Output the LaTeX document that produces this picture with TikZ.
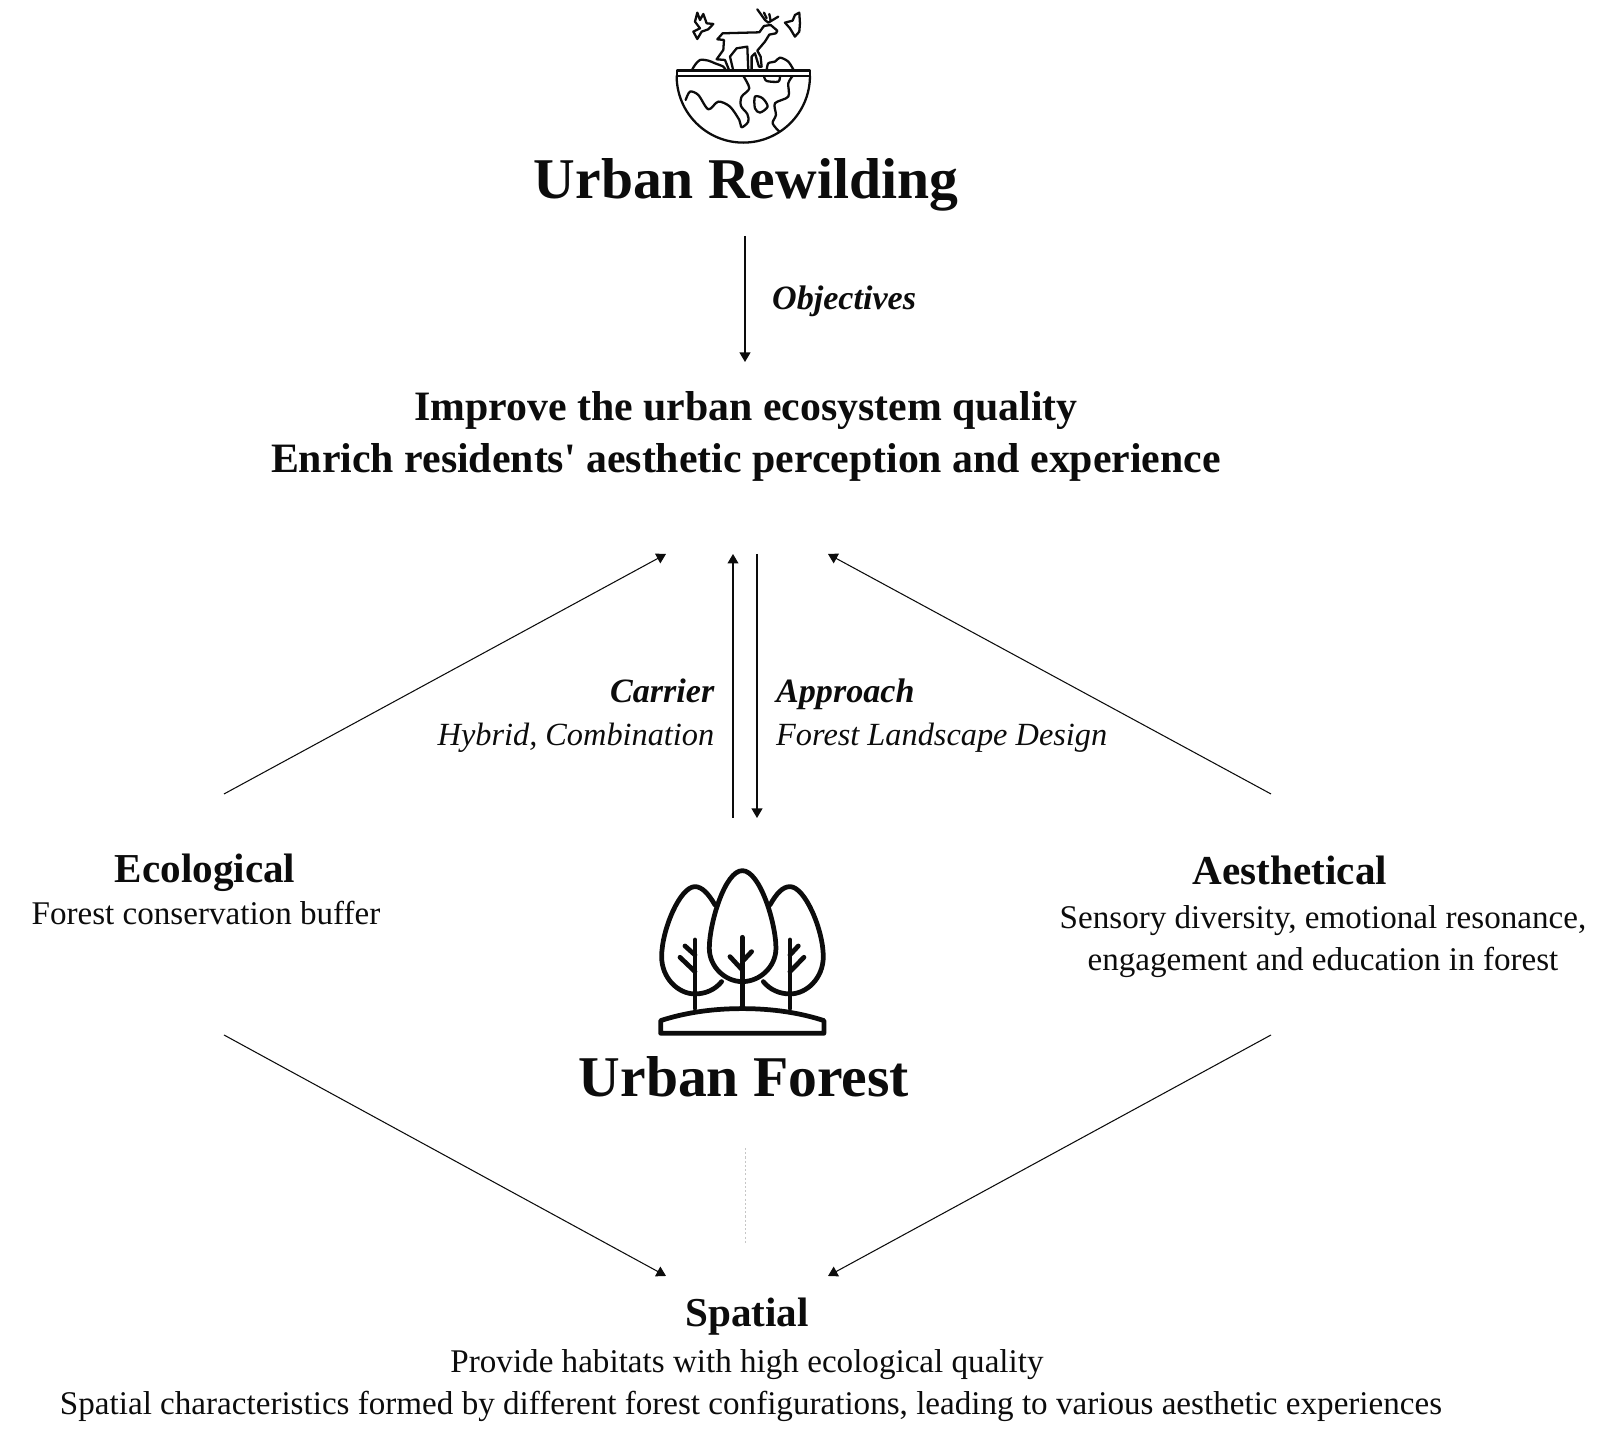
\documentclass[tikz,border=0pt]{standalone}
\usepackage{fontspec}
\usepackage{xcolor}
\usetikzlibrary{arrows.meta}
\setmainfont{Liberation Serif}
\definecolor{inkblack}{RGB}{12, 12, 12}
\tikzset{
  titletext/.style={anchor=base,font=\fontsize{16.4}{20}\selectfont\bfseries,text=inkblack,inner sep=0pt},
  goaltext/.style={anchor=base,font=\fontsize{11.9}{14}\selectfont\bfseries,text=inkblack,inner sep=0pt},
  headtext/.style={anchor=base,font=\fontsize{11.7}{14}\selectfont\bfseries,text=inkblack,inner sep=0pt},
  bodytext/.style={anchor=base,font=\fontsize{9.42}{12}\selectfont,text=inkblack,inner sep=0pt},
  tagtext/.style={font=\fontsize{9.7}{12}\selectfont\bfseries\itshape,text=inkblack,inner sep=0pt},
  notetext/.style={font=\fontsize{9.2}{12}\selectfont\itshape,text=inkblack,inner sep=0pt},
  flowline/.style={draw=inkblack,line width=0.3pt,-{Triangle[length=2.7pt,width=3.1pt]}},
  globeline/.style={draw=inkblack,line width=0.65pt,line join=round,line cap=round},
  treeline/.style={draw=inkblack,line width=1.35pt,line join=round,line cap=round}
}

\begin{document}
\begin{tikzpicture}
\useasboundingbox (0,0) rectangle (15.98,14.29);

\begin{scope}[shift={(6.40cm,14.29cm)},x=0.03333mm,y=-0.03333mm]
  \draw[globeline] (110,212) rectangle (510,228);
  \draw[globeline] (110,228) arc[start angle=180,end angle=0,radius=200];
  \draw[globeline] plot[smooth] coordinates {(137,300) (150,275) (175,285) (205,328) (235,305) (270,320) (298,360) (305,382) (325,365) (322,342) (303,318) (305,290) (328,265) (310,228)};
  \draw[globeline] plot[smooth] coordinates {(372,228) (380,243) (415,245) (420,228)};
  \draw[globeline] plot[smooth] coordinates {(458,228) (445,250) (445,290) (405,310) (408,345) (398,370) (418,395)};
  \draw[globeline] plot[smooth cycle] coordinates {(345,290) (368,295) (383,320) (360,338) (345,325)};
  \draw[globeline] (232,118) -- (248,100) -- (358,97) -- (372,78) -- (392,75) -- (412,92) -- (408,100) -- (388,104) -- (375,125) -- (352,152) -- (362,170) -- (365,200) -- (357,200) -- (345,160) -- (335,170) -- (335,212) -- (325,212) -- (322,140) -- (290,145) -- (270,170) -- (280,212) -- (268,212) -- (255,180) -- (230,178) -- (250,150) -- (252,120) -- cycle;
  \draw[globeline] (352,28) -- (375,60) -- (385,68) -- (415,50);
  \draw[globeline] (372,38) -- (380,55);
  \draw[globeline] (388,42) -- (392,62);
  \draw[globeline] (172,38) -- (180,60) -- (190,42) -- (200,70) -- (220,72) -- (205,88) -- (185,95) -- (172,117) -- (160,95) -- (180,85) -- (165,65) -- cycle;
  \draw[globeline] (478,38) -- (465,45) -- (458,62) -- (435,68) -- (450,85) -- (465,110) -- (478,95) -- (480,70) -- cycle;
  \draw[globeline] plot[smooth] coordinates {(155,212) (165,195) (180,180) (205,182) (225,190) (250,200) (258,212)};
  \draw[globeline] plot[smooth] coordinates {(380,212) (385,190) (405,185) (420,173) (445,185) (462,212)};
\end{scope}

\begin{scope}[shift={(6.30cm,5.79cm)},x=0.03333mm,y=-0.03333mm]
  \draw[treeline] (255,165) .. controls (235,130) and (215,110) .. (195,110) .. controls (150,110) and (95,240) .. (95,320) .. controls (95,385) and (145,432) .. (195,432) .. controls (225,432) and (255,420) .. (275,395);
  \draw[treeline] (337,62) .. controls (285,62) and (238,220) .. (238,295) .. controls (238,350) and (285,395) .. (337,395) .. controls (390,395) and (438,350) .. (438,295) .. controls (438,220) and (390,62) .. (337,62) -- cycle;
  \draw[treeline] (420,165) .. controls (440,130) and (458,110) .. (480,110) .. controls (525,110) and (580,240) .. (580,320) .. controls (580,385) and (530,432) .. (480,432) .. controls (450,432) and (420,420) .. (400,395);
  \draw[treeline] (337,262) -- (337,470);
  \draw[treeline] (300,320) -- (337,360);
  \draw[treeline] (365,305) -- (337,335);
  \draw[treeline] (195,270) -- (195,475);
  \draw[treeline] (150,322) -- (195,365);
  \draw[treeline] (165,288) -- (195,315);
  \draw[treeline] (480,270) -- (480,475);
  \draw[treeline] (522,322) -- (480,365);
  \draw[treeline] (505,288) -- (480,315);
  \draw[treeline] (92,512) .. controls (160,490) and (240,476) .. (337,476) .. controls (434,476) and (514,490) .. (582,512) -- (582,550) -- (92,550) -- cycle;
\end{scope}

\node[titletext] (rewilding) at (7.46,12.30) {Urban Rewilding};
\node[goaltext] (goalone) at (7.46,10.08) {Improve the urban ecosystem quality};
\node[goaltext] (goaltwo) at (7.46,9.56) {Enrich residents\textquotesingle{} aesthetic perception and experience};
\node[tagtext,anchor=base west] (objectives) at (7.715,11.19) {Objectives};
\node[tagtext,anchor=base east] (carrier) at (7.15,7.26) {Carrier};
\node[notetext,anchor=base east] (hybrid) at (7.15,6.83) {Hybrid, Combination};
\node[tagtext,anchor=base west] (approach) at (7.755,7.26) {Approach};
\node[notetext,anchor=base west] (design) at (7.755,6.83) {Forest Landscape Design};
\node[headtext] (ecological) at (2.05,5.465) {Ecological};
\node[bodytext] (buffer) at (2.06,5.04) {Forest conservation buffer};
\node[headtext] (aesthetical) at (12.90,5.44) {Aesthetical};
\node[bodytext] (sensory) at (13.23,5.00) {Sensory diversity, emotional resonance,};
\node[bodytext] (engagement) at (13.23,4.58) {engagement and education in forest};
\node[titletext] (forest) at (7.44,3.325) {Urban Forest};
\node[headtext] (spatial) at (7.47,1.02) {Spatial};
\node[bodytext] (habitats) at (7.47,0.56) {Provide habitats with high ecological quality};
\node[bodytext] (configs) at (7.51,0.145) {Spatial characteristics formed by different forest configurations, leading to various aesthetic experiences};

\coordinate (objtop) at (7.45,11.93);
\coordinate (objend) at (7.45,10.67);
\coordinate (carrierlow) at (7.33,6.11);
\coordinate (carrierup) at (7.33,8.75);
\coordinate (approachup) at (7.57,8.75);
\coordinate (approachlow) at (7.57,6.11);
\coordinate (ecoup) at (2.24,6.35);
\coordinate (ecoend) at (6.66,8.75);
\coordinate (aesup) at (12.71,6.35);
\coordinate (aesend) at (8.28,8.75);
\coordinate (ecolow) at (2.24,3.94);
\coordinate (spaleft) at (6.66,1.53);
\coordinate (aeslow) at (12.71,3.94);
\coordinate (sparight) at (8.28,1.53);
\coordinate (dotup) at (7.457,2.81);
\coordinate (dotlow) at (7.457,1.86);

\draw[flowline] (objtop) -- (objend);
\draw[flowline] (carrierlow) -- (carrierup);
\draw[flowline] (approachup) -- (approachlow);
\draw[flowline] (ecoup) -- (ecoend);
\draw[flowline] (aesup) -- (aesend);
\draw[flowline] (ecolow) -- (spaleft);
\draw[flowline] (aeslow) -- (sparight);
\draw[gray!45,line width=0.25pt,dash pattern=on 0.6pt off 0.6pt] (dotup) -- (dotlow);
\end{tikzpicture}
\end{document}
